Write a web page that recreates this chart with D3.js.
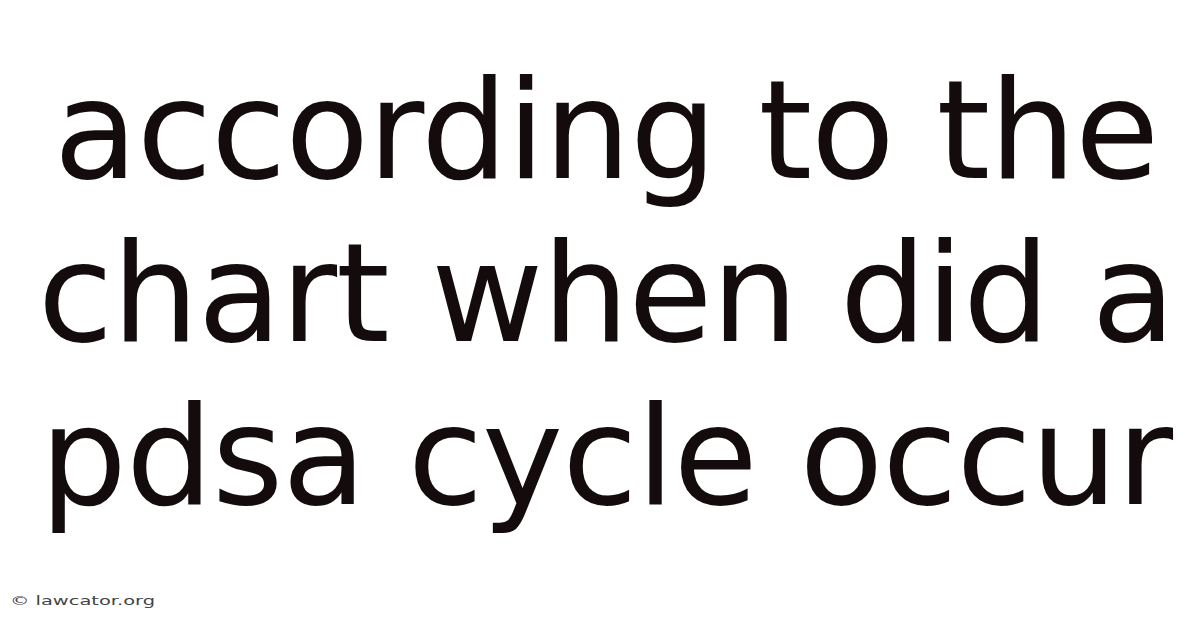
<!DOCTYPE html>
<html>
<head>
<meta charset="utf-8">
<script src="https://cdn.jsdelivr.net/npm/d3@7"></script>
<style>
  html, body { margin: 0; padding: 0; background: #fff; }
</style>
</head>
<body>
<script>
// title lines, top to bottom
const titleLines = ["according to the", "chart when did a", "pdsa cycle occur"];
const watermark = "\u00a9 lawcator.org";

const width = 1200, height = 628;

const svg = d3.select("body").append("svg")
    .attr("width", width)
    .attr("height", height)
    .style("display", "block");

svg.append("rect")
    .attr("width", width)
    .attr("height", height)
    .attr("fill", "#fff");

// one band per line, baselines spread evenly
const y = d3.scalePoint()
    .domain(titleLines)
    .range([178, 504]);

svg.selectAll(".title-line")
    .data(titleLines)
    .enter()
    .append("text")
    .attr("class", "title-line")
    .attr("x", width / 2 + 6)
    .attr("y", d => y(d))
    .attr("text-anchor", "middle")
    .style("font-family", "'DejaVu Sans', sans-serif")
    .style("font-size", "137px")
    .style("letter-spacing", "-1px")
    .style("fill", "#140c0c")
    .text(d => d);

// watermark is stretched wide in the original
svg.append("text")
    .attr("x", 10)
    .attr("y", 605)
    .attr("textLength", 145)
    .attr("lengthAdjust", "spacingAndGlyphs")
    .style("font-family", "'DejaVu Sans', sans-serif")
    .style("font-size", "13px")
    .style("fill", "#444")
    .text(watermark);
</script>
</body>
</html>
